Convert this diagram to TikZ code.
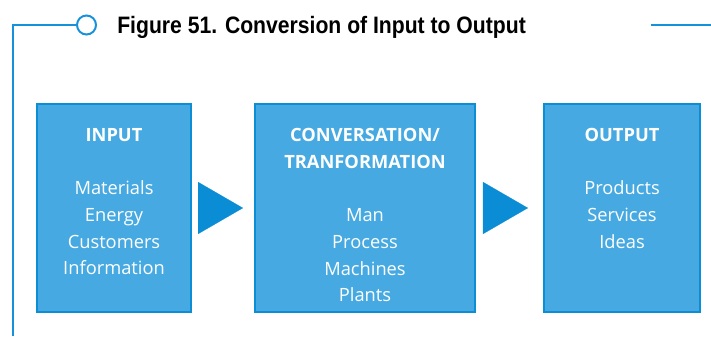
\documentclass[tikz,border=0pt]{standalone}
\usepackage{fontspec}
\setmainfont{Open Sans}
\newfontfamily\titlefont[FakeStretch=0.89]{Liberation Sans}
\usepackage{xcolor}
\usepackage{tikz}
\usetikzlibrary{arrows.meta,positioning}
\definecolor{clrFill}{HTML}{46A9E1}
\definecolor{clrEdge}{HTML}{0B8ED6}
\definecolor{clrArrow}{HTML}{0A8DD5}
\definecolor{clrRule}{HTML}{1592DA}
\tikzset{
  stagebox/.style={rectangle, line width=1.4pt, draw=clrEdge, fill=clrFill,
    outer sep=0pt, inner sep=0pt, minimum height=5.2cm},
  stagetxt/.style={align=center, inner sep=0pt, anchor=north, text=white,
    font=\fontsize{13}{19}\selectfont},
  % only the head shows: the shaft is white on white
  flow/.style={-{Triangle[length=32pt, width=37pt, color=clrArrow]},
    line width=0.1pt, white, shorten <=3.6pt, shorten >=8.5pt},
  rule/.style={line width=1.5pt, clrRule},
  knobstyle/.style={circle, draw=clrRule, line width=1.4pt, fill=white,
    inner sep=0pt, minimum size=0.475cm},
  caption/.style={anchor=base west, inner sep=0pt,
    font=\titlefont\bfseries\fontsize{16.9}{20}\selectfont},
}

\begin{document}
\begin{tikzpicture}[x=0.025cm, y=-0.025cm]
\useasboundingbox (0,0) rectangle (711,336);

% ── frame and caption ──────────────────────────────────────────────────────
\coordinate (framefoot) at (13,336);
\node[knobstyle] (knob) at (86.5,25) {};
\draw[rule] (knob.west) -| (framefoot);
\coordinate (railA) at (651,25);
\coordinate (railB) at (711,25);
\draw[rule] (railA) -- (railB);
\node[caption] (title) at (117,33) {Figure 51. Conversion of Input to Output};

% ── the three stages ───────────────────────────────────────────────────────
\node[stagebox, minimum width=3.85cm] (inbox) at (114,208) {};
\node[stagebox, minimum width=5.5cm] (midbox) at (365,208) {};
\node[stagebox, minimum width=3.9cm] (outbox) at (622,208) {};

\node[stagetxt, below=0.6cm of inbox.north] (intext)
  {\textbf{INPUT}\\[19pt]Materials\\Energy\\Customers\\Information};
\node[stagetxt, below=0.6cm of midbox.north] (midtext)
  {\textbf{CONVERSATION/}\\\textbf{TRANFORMATION}\\[19pt]Man\\Process\\Machines\\Plants};
\node[stagetxt, below=0.6cm of outbox.north] (outtext)
  {\textbf{OUTPUT}\\[19pt]Products\\Services\\Ideas};

% ── arrows between stages ──────────────────────────────────────────────────
\draw[flow] (inbox.east) -- (midbox.west);
\draw[flow, shorten >=11.4pt] (midbox.east) -- (outbox.west);

\end{tikzpicture}
\end{document}
